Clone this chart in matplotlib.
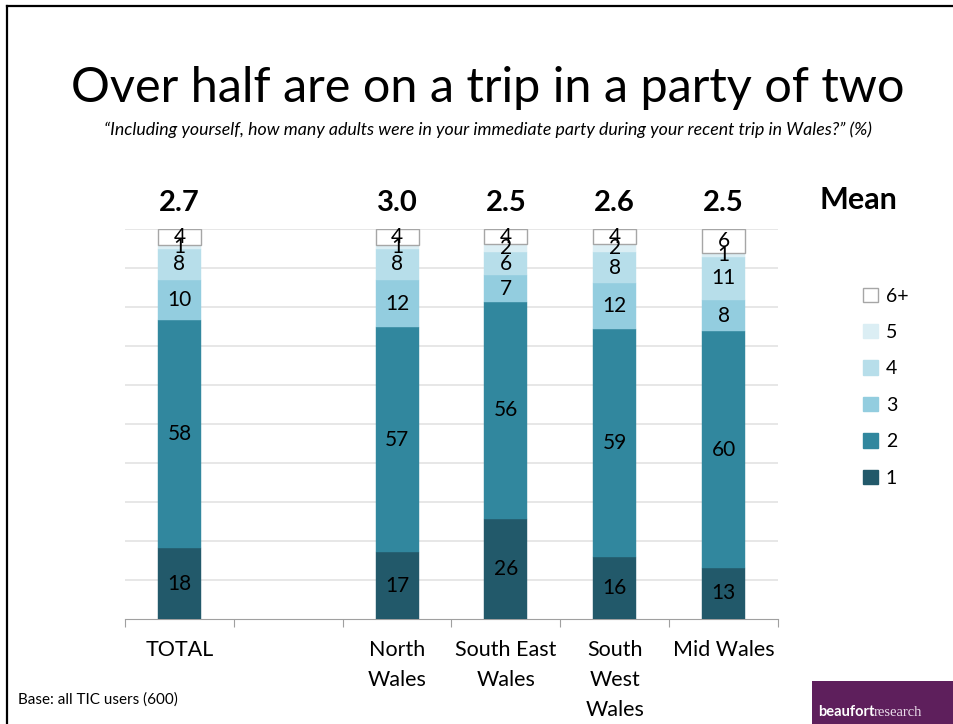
import numpy as np
import matplotlib.pyplot as plt
from matplotlib.patches import Patch
from matplotlib.lines import Line2D

plt.rcParams['font.family'] = ['Lato', 'DejaVu Sans']

# =============================================================================
# DATA
# =============================================================================
categories = ["TOTAL", "", "North\nWales", "South East\nWales", "South\nWest\nWales", "Mid Wales"]
party_sizes = ["1", "2", "3", "4", "5", "6+"]
share_1 = [18, None, 17, 26, 16, 13]
share_2 = [58, None, 57, 56, 59, 60]
share_3 = [10, None, 12, 7, 12, 8]
share_4 = [8, None, 8, 6, 8, 11]
share_5 = [1, None, 1, 2, 2, 1]
share_6plus = [4, None, 4, 4, 4, 6]
means = ["2.7", None, "3.0", "2.5", "2.6", "2.5"]

series = [share_1, share_2, share_3, share_4, share_5, share_6plus]
colors = ["#22596a", "#31879e", "#93cddf", "#b7deea", "#dbeef4", "#ffffff"]
edges = [None, None, None, None, None, "#a6a6a6"]

W, H = 954, 724
fig = plt.figure(figsize=(W / 100, H / 100), dpi=100)
fig.patch.set_facecolor("white")

ax = fig.add_axes([125 / W, (H - 619) / H, 653 / W, 390 / H])

# 100% stacked: each bar scaled to its own total
present = [i for i, v in enumerate(share_1) if v is not None]
totals = {i: sum(s[i] for s in series) for i in present}
bottom = {i: 0.0 for i in present}
for vals, col, ec in zip(series, colors, edges):
    xs = np.array(present)
    hs = np.array([vals[i] * 100.0 / totals[i] for i in present])
    bs = np.array([bottom[i] for i in present])
    ax.bar(xs, hs, width=0.395, bottom=bs, color=col,
           edgecolor=ec if ec else col, linewidth=1.0 if ec else 0.3, zorder=3)
    for xi, h, b in zip(xs, hs, bs):
        ax.text(xi, b + h / 2, str(vals[xi]), ha="center", va="center",
                fontsize=15, color="black", zorder=4)
    for xi, h in zip(xs, hs):
        bottom[xi] += h

for xi, m in enumerate(means):
    if m is None:
        continue
    ax.text(xi, 106.7, m, ha="center", va="center", fontsize=21,
            fontweight="bold", clip_on=False)

ax.set_xlim(-0.5, len(categories) - 0.5)
ax.set_ylim(0, 100)
ax.set_yticks(np.arange(10, 101, 10))
ax.yaxis.grid(True, color="#e3e3e3", linewidth=1.2, zorder=0)
ax.tick_params(axis="y", left=False, labelleft=False)
for s in ["top", "right", "left"]:
    ax.spines[s].set_visible(False)
ax.spines["bottom"].set_color("#a0a0a0")
ax.set_xticks(np.arange(-0.5, len(categories), 1.0))
ax.set_xticklabels([])
ax.tick_params(axis="x", length=6, color="#a0a0a0")
for xi, lab in enumerate(categories):
    ax.text(xi, -5.5, lab, ha="center", va="top", fontsize=15.5,
            linespacing=1.6, transform=ax.transData)

# legend
handles = [Patch(facecolor=c, edgecolor=(e if e else c)) for c, e in zip(colors, edges)]
fig.legend(handles[::-1], party_sizes[::-1], loc="upper left",
           bbox_to_anchor=(846 / W, 1 - 270 / H), frameon=False,
           fontsize=14, labelspacing=1.0, handlelength=0.75, handleheight=0.75,
           handletextpad=0.4)
fig.text(858 / W, 1 - 200 / H, "Mean", fontsize=22, fontweight="bold",
         ha="center", va="center")

# title and notes
fig.text(488 / W, 1 - 88 / H, "Over half are on a trip in a party of two",
         fontsize=35, ha="center", va="center")
fig.text(488 / W, 1 - 130 / H,
         "\u201cIncluding yourself, how many adults were in your immediate party "
         "during your recent trip in Wales?\u201d (%)",
         fontsize=12.8, style="italic", ha="center", va="center")
fig.text(18 / W, 1 - 700 / H, "Base: all TIC users (600)", fontsize=11,
         ha="left", va="center")

# slide border
fig.add_artist(Line2D([7.5 / W, 7.5 / W], [0, 1 - 5.5 / H], color="black", linewidth=1.6))
fig.add_artist(Line2D([7.5 / W, 1], [1 - 5.5 / H, 1 - 5.5 / H], color="black", linewidth=1.6))

# logo block
logo = fig.add_axes([812 / W, 0, 142 / W, 43 / H])
logo.set_facecolor("#5e1f5c")
logo.set_xticks([])
logo.set_yticks([])
for s in logo.spines.values():
    s.set_visible(False)
t1 = logo.text(0.04, 0.12, "beaufort", color="white", fontsize=10.5, fontweight="bold",
               ha="left", va="bottom", transform=logo.transAxes)
logo.annotate("research", xy=(1, 0), xycoords=t1, color="#eadcea", fontsize=10.5,
              ha="left", va="bottom", family="Liberation Serif")

fig.savefig("out.png", dpi=100)
